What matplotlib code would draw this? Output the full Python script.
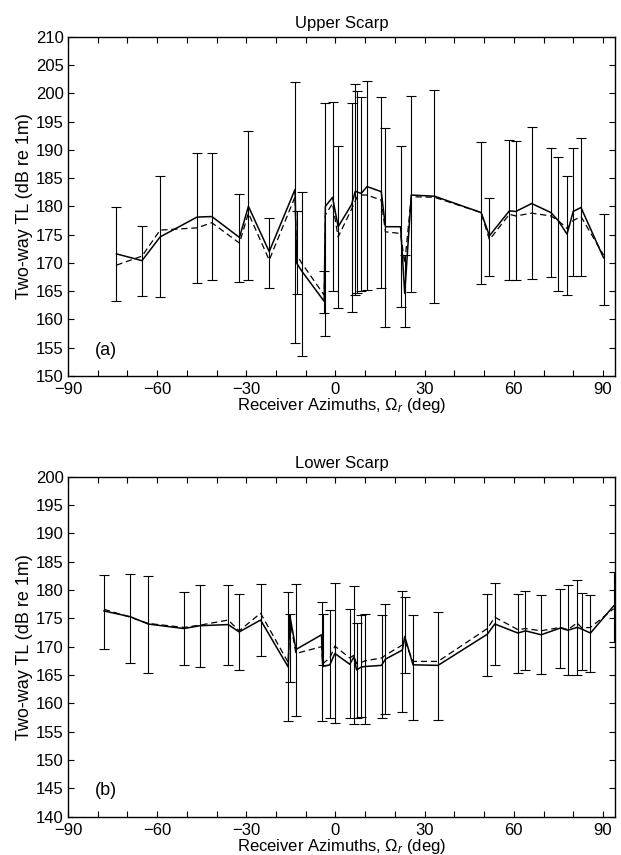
import numpy as np
import matplotlib
matplotlib.use("Agg")
import matplotlib.pyplot as plt

plt.rcParams['font.family'] = ['Liberation Sans', 'DejaVu Sans']
plt.rcParams['mathtext.fontset'] = 'custom'
plt.rcParams['mathtext.rm'] = 'Liberation Sans'
plt.rcParams['mathtext.it'] = 'Liberation Sans:italic'

# Upper scarp (a): azimuth, measured (solid), model (dashed), error bar top/bottom
up_az = [-73.7, -65.1, -59.0, -46.6, -41.6, -32.3, -29.3, -22.3, -13.6, -13.1,
         -11.4, -3.8, -3.4, -1.0, 0.9, 5.4, 6.7, 7.4, 8.7, 10.6,
         15.4, 16.8, 21.9, 23.3, 25.5, 33.3, 49.0, 51.8, 58.5, 60.7,
         66.0, 72.5, 74.9, 77.9, 80.0, 82.6, 90.2]
up_solid = [171.6, 170.4, 174.6, 178.1, 178.2, 174.5, 180.0, 172.0, 183.0, 170.0,
            168.6, 163.2, 180.0, 181.6, 176.4, 180.3, 182.7, 182.5, 182.3, 183.5,
            182.6, 176.4, 176.4, 164.6, 182.0, 181.8, 178.9, 174.8, 179.2, 179.1,
            180.5, 178.9, 177.5, 175.1, 179.1, 179.8, 170.9]
up_dash = [169.6, 171.2, 175.8, 176.2, 177.1, 173.5, 178.8, 170.5, 181.7, 171.5,
           170.0, 164.3, 178.5, 180.5, 174.6, 179.5, 181.0, 181.8, 182.0, 182.0,
           181.1, 175.5, 175.2, 169.9, 181.7, 181.6, 178.9, 174.1, 178.6, 178.3,
           178.8, 178.3, 177.5, 176.1, 177.5, 178.2, 171.4]
up_top = [179.8, 176.5, 185.4, 189.5, 189.5, 182.2, 193.3, 177.9, 202.0, 179.1,
          182.5, 168.6, 198.3, 198.4, 190.7, 198.3, 201.6, 200.4, 199.3, 202.2,
          199.4, 193.9, 190.7, 171.4, 199.5, 200.6, 191.3, 181.5, 191.7, 191.6,
          194.1, 190.4, 188.8, 185.4, 190.4, 192.0, 178.6]
up_bot = [163.3, 164.2, 163.9, 166.5, 167.0, 166.6, 166.9, 165.5, 155.8, 164.5,
          153.5, 161.1, 157.1, 165.0, 162.1, 161.3, 164.3, 164.6, 165.0, 165.2,
          165.5, 158.6, 162.2, 158.6, 164.9, 163.0, 166.2, 167.6, 166.9, 166.9,
          167.1, 167.5, 165.0, 164.3, 167.7, 167.7, 162.6]

# Lower scarp (b)
lo_az = [-77.9, -69.1, -63.0, -51.0, -45.6, -36.1, -32.4, -25.2, -15.9, -15.4,
         -13.3, -4.7, -4.3, -1.9, -0.2, 4.8, 6.2, 7.1, 8.7, 9.9,
         15.5, 16.8, 22.5, 23.3, 26.1, 34.5, 51.1, 53.6, 61.4, 63.9,
         69.2, 75.7, 78.2, 81.3, 82.9, 85.8, 93.6]
lo_solid = [176.3, 175.3, 174.0, 173.2, 173.7, 173.9, 172.6, 174.7, 166.4, 175.6,
            169.5, 172.1, 166.5, 166.8, 168.8, 166.9, 168.2, 165.9, 166.4, 166.5,
            166.7, 167.8, 169.4, 171.8, 166.8, 166.7, 172.2, 174.0, 172.4, 172.8,
            172.1, 173.3, 172.9, 173.4, 173.1, 172.4, 177.2]
lo_dash = [176.6, 175.2, 174.1, 173.4, 173.8, 174.7, 172.8, 175.9, 167.2, 175.0,
           168.8, 170.0, 167.0, 168.0, 170.1, 168.0, 168.5, 167.0, 167.2, 167.5,
           168.0, 168.5, 170.3, 171.0, 167.4, 167.4, 173.2, 175.2, 173.0, 173.2,
           172.8, 173.4, 173.0, 174.2, 173.3, 173.4, 176.7]
lo_top = [182.6, 182.9, 182.5, 179.7, 180.8, 180.9, 179.3, 181.1, 179.7, 175.7,
          181.0, 177.8, 175.7, 176.5, 181.3, 176.6, 180.7, 174.1, 175.6, 175.8,
          175.6, 177.5, 179.9, 178.8, 175.6, 176.1, 179.3, 181.2, 179.3, 179.9,
          179.1, 180.2, 180.8, 181.8, 179.5, 179.1, 183.2]
lo_bot = [169.6, 167.2, 165.3, 166.8, 166.5, 166.8, 165.8, 168.4, 156.9, 163.8,
          157.8, 156.9, 166.8, 157.4, 156.5, 157.4, 156.4, 157.4, 157.6, 156.3,
          157.4, 158.1, 158.4, 165.4, 157.0, 157.0, 164.9, 166.8, 165.4, 165.8,
          165.1, 166.2, 165.0, 165.0, 165.9, 165.5, 170.8]


def draw_panel(ax, az, solid, dash, top, bot, title, tag, ylim, tag_y):
    top = np.array(top)
    bot = np.array(bot)
    # error bars drawn from their own top/bottom ends
    mid = (top + bot) / 2
    half = (top - bot) / 2
    ax.errorbar(az, mid, yerr=half, fmt='none', ecolor='black',
                elinewidth=0.8, capsize=3.5, capthick=0.8)
    ax.plot(az, solid, color='black', lw=1.1)
    ax.plot(az, dash, color='black', lw=0.9, dashes=(5, 3))

    ax.set_xlim(-90, 94)
    ax.set_ylim(*ylim)
    xt = np.arange(-90, 91, 10)
    ax.set_xticks(xt)
    ax.set_xticklabels([('%d' % v).replace('-', '\u2212') if v % 30 == 0 else ''
                        for v in xt])
    ax.set_yticks(np.arange(ylim[0], ylim[1] + 1, 5))
    ax.tick_params(direction='in', top=True, right=True, length=4,
                   labelsize=12)
    ax.tick_params(axis='x', pad=4.5)
    ax.tick_params(axis='y', pad=3)
    ax.set_title(title, fontsize=12, pad=6)
    ax.set_ylabel('Two-way TL (dB re 1m)', fontsize=13, labelpad=2)
    ax.set_xlabel(r'Receiver Azimuths, $\Omega_r$ (deg)', fontsize=12,
                  labelpad=-1)
    ax.text(-81, tag_y, tag, fontsize=13, va='center')
    for sp in ax.spines.values():
        sp.set_linewidth(1.0)


fig = plt.figure(figsize=(6.21, 8.55), dpi=100)
ax_a = fig.add_axes([0.1095, 0.5602, 0.8806, 0.3969])
ax_b = fig.add_axes([0.1095, 0.0448, 0.8806, 0.3977])

draw_panel(ax_a, up_az, up_solid, up_dash, up_top, up_bot,
           'Upper Scarp', '(a)', (150, 210), 154.6)
draw_panel(ax_b, lo_az, lo_solid, lo_dash, lo_top, lo_bot,
           'Lower Scarp', '(b)', (140, 200), 144.7)

fig.savefig('out.png', dpi=100)
